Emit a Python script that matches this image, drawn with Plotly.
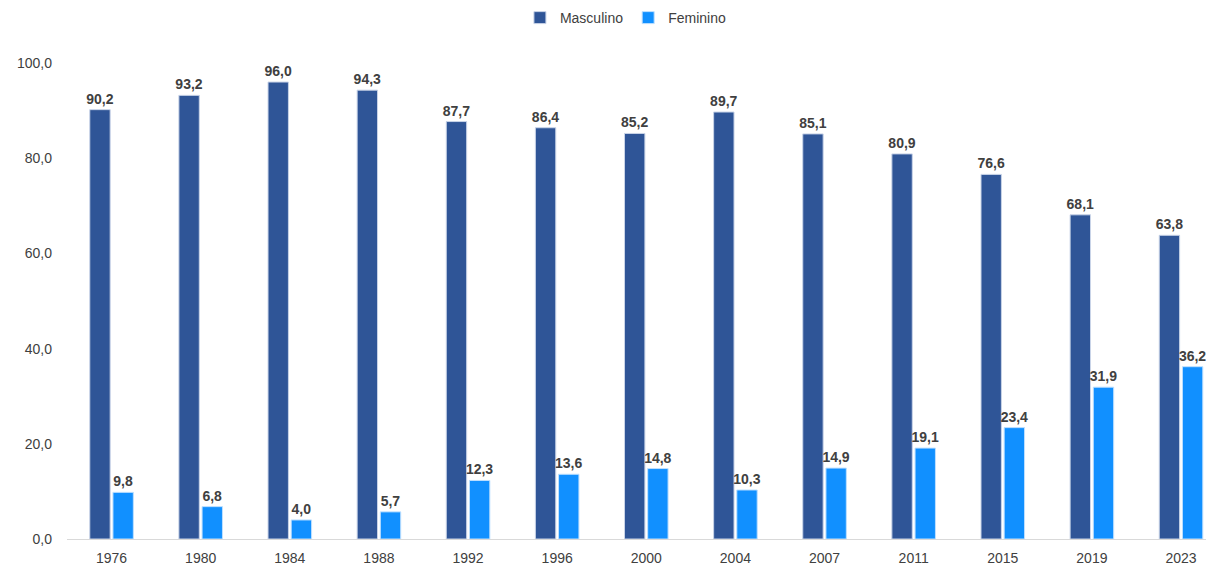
import plotly.graph_objects as go

years = ["1976", "1980", "1984", "1988", "1992", "1996", "2000", "2004", "2007", "2011", "2015", "2019", "2023"]
masculino = [90.2, 93.2, 96.0, 94.3, 87.7, 86.4, 85.2, 89.7, 85.1, 80.9, 76.6, 68.1, 63.8]
feminino = [9.8, 6.8, 4.0, 5.7, 12.3, 13.6, 14.8, 10.3, 14.9, 19.1, 23.4, 31.9, 36.2]

label_font = dict(family="Liberation Sans", size=14, color="#404040")
value_font = dict(family="Liberation Sans", size=14, color="#404040", weight="bold")

fig = go.Figure()
fig.add_trace(go.Bar(
    x=years, y=masculino, name="Masculino",
    marker=dict(color="#2F5597", line=dict(color="#c9d4e8", width=1)),
    text=[f"{v:.1f}".replace(".", ",") for v in masculino],
    textposition="outside", textfont=value_font,
    cliponaxis=False,
))
fig.add_trace(go.Bar(
    x=years, y=feminino, name="Feminino",
    marker=dict(color="#1190FF", line=dict(color="#bfe0ff", width=1)),
    text=[f"{v:.1f}".replace(".", ",") for v in feminino],
    textposition="outside", textfont=value_font,
    cliponaxis=False,
))

fig.update_layout(
    width=1214, height=569,
    plot_bgcolor="white", paper_bgcolor="white",
    barmode="group", bargap=0.48, bargroupgap=0.12,
    separators=",.",
    uniformtext=dict(minsize=14, mode="show"),
    margin=dict(l=59, r=8, t=55, b=38, autoexpand=False),
    legend=dict(orientation="h", x=0.509, xref="container", xanchor="center",
                y=1.0945, yref="paper", yanchor="middle",
                font=dict(family="Liberation Sans", size=14, color="#404040"),
                itemwidth=30, tracegroupgap=0),
    xaxis=dict(range=[-0.5, 12.37], showgrid=False, showline=True, linecolor="#d9d9d9", linewidth=1,
               ticks="", tickfont=label_font, ticklabelstandoff=6),
    yaxis=dict(range=[0, 100], dtick=20, tickformat=".1f", showgrid=False, zeroline=False,
               showline=False, ticks="", tickfont=label_font, ticklabelstandoff=14),
    font=dict(family="Liberation Sans"),
)

fig.write_html("out.html")
